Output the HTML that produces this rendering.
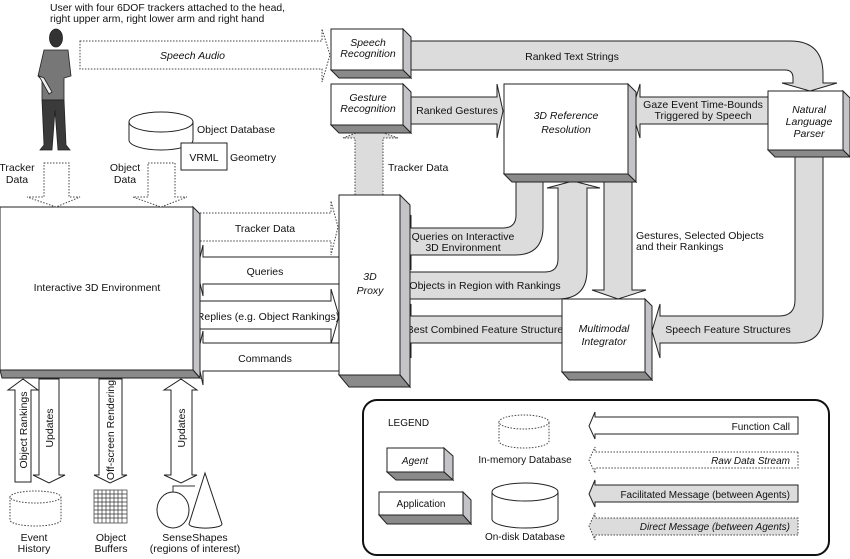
<!DOCTYPE html>
<html><head><meta charset="utf-8"><style>
html,body{margin:0;padding:0;background:#fff}
svg{display:block}
text{font-family:"Liberation Sans",sans-serif;font-size:10.5px;fill:#111}
.i{font-style:italic}
.w{fill:#fff;stroke:#222;stroke-width:1}
.g{fill:#dcdcdc;stroke:#222;stroke-width:1}
.d{fill:#fff;stroke:#444;stroke-width:1;stroke-dasharray:1.5 1.5}
.dg{fill:#dcdcdc;stroke:#444;stroke-width:1;stroke-dasharray:1.5 1.5}
.s{fill:#c4c4c8;stroke:#222;stroke-width:1}
.b{fill:#8a8a8a;stroke:#222;stroke-width:1}
</style></head><body>
<svg width="850" height="559" viewBox="0 0 850 559" xmlns="http://www.w3.org/2000/svg">
<text x="50" y="11" style="font-size:10.4px">User with four 6DOF trackers attached to the head,</text>
<text x="50" y="22" style="font-size:10.4px">right upper arm, right lower arm and right hand</text>

<g fill="#444" stroke="#222" stroke-width="0.8">
<ellipse cx="56" cy="38" rx="6.5" ry="9" fill="#333"/>
<path d="M44 50 L68 50 L71 76 L64 78 L64 100 L42 100 L42 80 L38 76 Z" fill="#777"/>
<path d="M42 100 L64 100 L66 145 L70 150 L58 150 L55 110 L52 150 L40 150 L44 145 Z" fill="#3a3a3a"/>
<path d="M39 76 L44 78 L52 92 L49 94 Z" fill="#eee"/>
</g>

<polygon class="d" points="80,41 322,41 322,29 330,55 322,82 322,69 80,69"/>
<text x="160" y="59" class="i">Speech Audio</text>

<path class="g" d="M411 41 H790 Q823 41 823 74 V83 H837 L810 91 L782 83 H793 V78 Q793 70 785 70 H411 Z"/>
<text x="572" y="60" text-anchor="middle">Ranked Text Strings</text>

<path class="g" d="M795 157 V300 Q795 316 779 316 H660 V304 L652 331 L660 358 V343 H795 Q823 343 823 315 V157 Z"/>
<text x="728" y="333" text-anchor="middle">Speech Feature Structures</text>

<polygon class="g" points="411,97 497,97 497,84 503,111 497,138 497,124 411,124"/>
<text x="457" y="114" text-anchor="middle">Ranked Gestures</text>

<polygon class="g" points="768,97 640,97 640,84 632,111 640,138 640,124 768,124"/>
<text x="703" y="108" text-anchor="middle">Gaze Event Time-Bounds</text>
<text x="703" y="119" text-anchor="middle">Triggered by Speech</text>

<path class="g" d="M516 182 V215 Q516 228 503 228 H411 V215 L403 242 L411 270 V255 H515 Q543 255 543 227 V182 Z"/>
<text x="463" y="240" text-anchor="middle">Queries on Interactive</text>
<text x="463" y="251" text-anchor="middle">3D Environment</text>

<path class="g" d="M406 272 H545 Q558 272 558 259 V188 H547 L573 181 L600 188 H587 V270 Q587 299 558 299 H406 Z"/>
<text x="485" y="289" text-anchor="middle">Objects in Region with Rankings</text>

<polygon class="g" points="604,182 632,182 632,290 646,290 618,299 592,290 604,290"/>
<text x="636" y="239">Gestures, Selected Objects</text>
<text x="636" y="250">and their Rankings</text>

<polygon class="g" points="562,316 411,316 411,304 403,331 411,358 411,343 562,343"/>
<text x="485" y="333" text-anchor="middle">Best Combined Feature Structure</text>

<polygon class="dg" points="355,195 355,138 343,138 369,128 398,138 383,138 383,195"/>
<text x="388" y="171">Tracker Data</text>

<g>
<polygon class="s" points="403,29 411,37 411,78 403,70"/><polygon class="b" points="331,70 403,70 411,78 339,78"/>
<rect class="w" x="331" y="29" width="72" height="41"/>
<text x="368" y="46" text-anchor="middle" class="i">Speech</text><text x="368" y="57" text-anchor="middle" class="i">Recognition</text>
<polygon class="s" points="403,84 411,92 411,133 403,125"/><polygon class="b" points="331,125 403,125 411,133 339,133"/>
<rect class="w" x="331" y="84" width="72" height="41"/>
<text x="368" y="101" text-anchor="middle" class="i">Gesture</text><text x="368" y="112" text-anchor="middle" class="i">Recognition</text>
<polygon class="s" points="628,84 636,92 636,182 628,174"/><polygon class="b" points="504,174 628,174 636,182 512,182"/>
<rect class="w" x="504" y="84" width="124" height="90"/>
<text x="566" y="119" text-anchor="middle" class="i">3D Reference</text><text x="566" y="133" text-anchor="middle" class="i">Resolution</text>
<polygon class="s" points="843,91 850,98 850,157 843,150"/><polygon class="b" points="768,150 843,150 850,157 775,157"/>
<rect class="w" x="768" y="91" width="75" height="59"/>
<text x="809" y="113" text-anchor="middle" class="i">Natural</text><text x="809" y="125" text-anchor="middle" class="i">Language</text><text x="809" y="137" text-anchor="middle" class="i">Parser</text>
<polygon class="s" points="645,299 652,306 652,380 645,372"/><polygon class="b" points="562,372 645,372 652,380 569,380"/>
<rect class="w" x="562" y="299" width="83" height="73"/>
<text x="604" y="332" text-anchor="middle" class="i">Multimodal</text><text x="604" y="345" text-anchor="middle" class="i">Integrator</text>
</g>

<polygon class="d" points="197,213 331,213 331,201 338,227 331,255 331,241 197,241"/>
<text x="265" y="232" text-anchor="middle">Tracker Data</text>
<polygon class="w" points="339,257 203,257 203,245 197,270 203,296 203,284 339,284"/>
<text x="265" y="275" text-anchor="middle">Queries</text>
<polygon class="w" points="197,301 331,301 331,289 339,316 331,344 331,329 197,329"/>
<text x="268" y="320" text-anchor="middle">Replies (e.g. Object Rankings)</text>
<polygon class="w" points="339,343 203,343 203,331 197,357 203,385 203,371 339,371"/>
<text x="265" y="362" text-anchor="middle">Commands</text>

<polygon class="s" points="400,195 410,205 410,387 400,375"/><polygon class="b" points="339,375 400,375 410,387 349,387"/>
<rect class="w" x="339" y="195" width="61" height="180"/>
<text x="370" y="280" text-anchor="middle" class="i">3D</text><text x="370" y="294" text-anchor="middle" class="i">Proxy</text>

<polygon class="s" points="193,207 200,214 200,378 193,370"/><polygon class="b" points="0,370 193,370 200,378 2,378"/>
<rect class="w" x="0" y="207" width="193" height="163"/>
<text x="97" y="291" text-anchor="middle">Interactive 3D Environment</text>

<polygon class="d" points="44,163 69,163 69,197 80,197 56,207 27,197 44,197"/>
<text x="17" y="171" text-anchor="middle">Tracker</text><text x="17" y="183" text-anchor="middle">Data</text>
<polygon class="d" points="148,163 175,163 175,197 187,197 161,207 133,197 148,197"/>
<text x="125" y="171" text-anchor="middle">Object</text><text x="125" y="183" text-anchor="middle">Data</text>

<path class="w" d="M129 122 V140 A32 10 0 0 0 193 140 V122"/>
<ellipse class="w" cx="161" cy="122" rx="32" ry="10"/>
<rect class="w" x="181" y="143" width="46" height="27"/>
<text x="204" y="161" text-anchor="middle">VRML</text>
<text x="197" y="133">Object Database</text>
<text x="230" y="161">Geometry</text>

<polygon class="w" points="15,482 15,390 8,390 23,379 38,390 31,390 31,482"/>
<text transform="translate(27,430) rotate(-90)" text-anchor="middle">Object Rankings</text>
<polygon class="w" points="39,379 59,379 59,475 65,475 49,483 33,475 39,475"/>
<text transform="translate(53,428) rotate(-90)" text-anchor="middle">Updates</text>
<polygon class="w" points="99,379 122,379 122,475 127,475 110,483 94,475 99,475"/>
<text transform="translate(114,430) rotate(-90)" text-anchor="middle">Off-screen Rendering</text>
<polygon class="w" points="171,390 164,390 181,379 197,390 192,390 192,475 197,475 181,483 164,475 171,475"/>
<text transform="translate(185,428) rotate(-90)" text-anchor="middle">Updates</text>

<path class="d" d="M10 497 V520 A25.5 6 0 0 0 61 520 V497"/>
<ellipse class="d" cx="35.5" cy="497" rx="25.5" ry="6"/>
<text x="34" y="541" text-anchor="middle">Event</text><text x="34" y="552" text-anchor="middle">History</text>
<g stroke="#333" stroke-width="0.7" fill="none">
<rect x="94" y="490" width="33" height="33"/>
<path d="M98 490V523M102 490V523M106 490V523M110 490V523M114 490V523M118 490V523M122 490V523M94 494H127M94 498H127M94 502H127M94 506H127M94 510H127M94 514H127M94 518H127"/>
</g>
<text x="111" y="541" text-anchor="middle">Object</text><text x="111" y="552" text-anchor="middle">Buffers</text>
<path d="M173 492 V486 H195" fill="none" stroke="#333"/>
<ellipse class="w" cx="173" cy="510" rx="16" ry="18"/>
<path class="w" d="M205 473 L189 524 A16 4 0 0 0 222 524 Z"/>
<text x="195" y="541" text-anchor="middle">SenseShapes</text><text x="195" y="552" text-anchor="middle">(regions of interest)</text>

<rect x="363" y="400" width="466" height="155" rx="14" fill="#fff" stroke="#111" stroke-width="2"/>
<text x="388" y="426" style="font-size:10px">LEGEND</text>
<polygon class="s" points="444,448 453,456 453,480 444,472"/><polygon class="b" points="387,472 444,472 453,480 396,480"/>
<rect class="w" x="387" y="448" width="57" height="24"/>
<text x="415" y="464" text-anchor="middle" class="i" style="font-size:10px">Agent</text>
<polygon class="s" points="463,492 471,500 471,524 463,515"/><polygon class="b" points="379,515 463,515 471,524 387,524"/>
<rect class="w" x="379" y="492" width="84" height="23"/>
<text x="421" y="507" text-anchor="middle" style="font-size:10px">Application</text>
<path class="d" d="M499 422 V441 A25 7 0 0 0 549 441 V422"/>
<ellipse class="d" cx="524" cy="422" rx="25" ry="7"/>
<text x="525" y="463" text-anchor="middle" style="font-size:10px">In-memory Database</text>
<path class="w" d="M492 492 V519 A33 9 0 0 0 558 519 V492"/>
<ellipse class="w" cx="525" cy="492" rx="33" ry="9"/>
<text x="525" y="540" text-anchor="middle" style="font-size:10px">On-disk Database</text>

<polygon class="w" points="798,417 595,417 595,412 589,426 595,439 595,434 798,434"/>
<text x="790" y="430" text-anchor="end" style="font-size:10px">Function Call</text>
<polygon class="d" points="798,452 595,452 595,447 589,460 595,473 595,468 798,468"/>
<text x="790" y="464" text-anchor="end" class="i" style="font-size:10px">Raw Data Stream</text>
<polygon class="g" points="798,485 595,485 595,480 589,494 595,507 595,502 798,502"/>
<text x="790" y="498" text-anchor="end" style="font-size:10px">Facilitated Message (between Agents)</text>
<polygon class="dg" points="798,518 595,518 595,513 589,526 595,540 595,535 798,535"/>
<text x="790" y="530" text-anchor="end" class="i" style="font-size:10px">Direct Message (between Agents)</text>
</svg>
</body></html>
